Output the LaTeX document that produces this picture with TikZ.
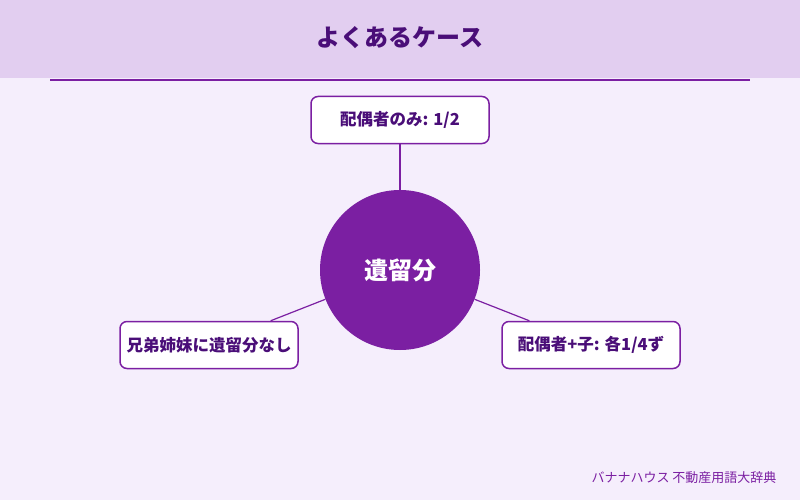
\documentclass[tikz,border=0pt]{standalone}
\usepackage{fontspec}
\setmainfont{Noto Sans CJK JP}
\definecolor{bandpurple}{HTML}{E2CEF0}
\definecolor{bgpurple}{HTML}{F5EEFC}
\definecolor{darkpurple}{HTML}{4A0E78}
\definecolor{midpurple}{HTML}{7B1FA2}
\tikzset{
  casebox/.style={draw=midpurple, line width=1.5pt, rounded corners=7pt, fill=white, minimum width=178pt, minimum height=47pt, inner sep=0pt, text=darkpurple, font=\bfseries\fontsize{16.5}{19}\selectfont},
  link/.style={midpurple, line width=1.2pt}
}
\begin{document}
\begin{tikzpicture}[x=1pt,y=-1pt]
    \fill[bgpurple] (0,0) rectangle (800,500);
    \fill[bandpurple] (0,0) rectangle (800,78);
    \node[text=darkpurple, font=\bfseries\fontsize{24}{28}\selectfont] (title) at (400,38) {よくあるケース};
    \draw[midpurple, line width=1.5pt] (50,80) -- (750,80);

    \node[circle, fill=midpurple, minimum size=160pt, text=white, font=\bfseries\fontsize{24}{28}\selectfont] (core) at (400,270) {遺留分};
    \node[casebox] (spouse) at (400,120) {配偶者のみ: 1/2};
    \node[casebox] (sibling) at (209,345) {兄弟姉妹に遺留分なし};
    \node[casebox] (child) at (591,345) {配偶者+子: 各1/4ず};

    \draw[link] (core) -- (spouse);
    \draw[link] (core) -- (sibling);
    \draw[link] (core) -- (child);

    \node[anchor=east, text=midpurple, font=\fontsize{13}{15}\selectfont] (credit) at (780,478) {バナナハウス 不動産用語大辞典};
\end{tikzpicture}
\end{document}
